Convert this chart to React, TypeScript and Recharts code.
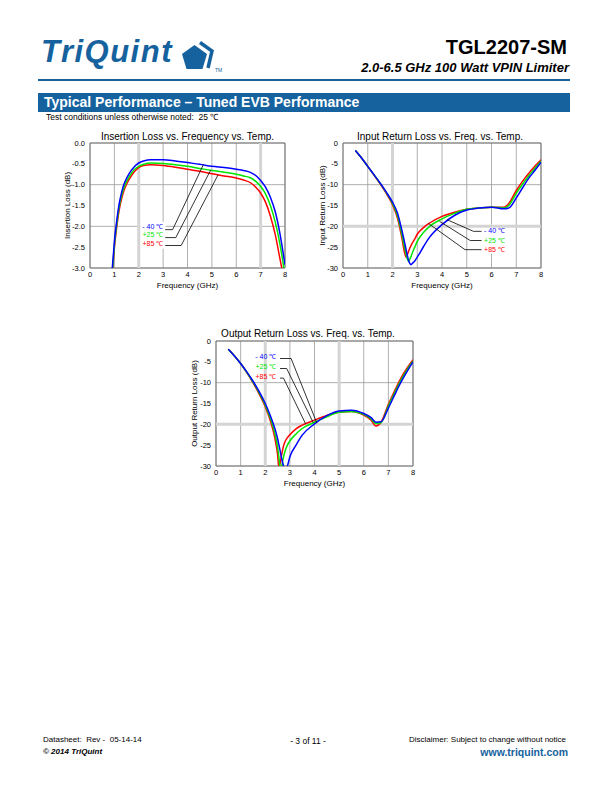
import React from 'react';
import {
  CartesianGrid,
  Label,
  Line,
  LineChart,
  ReferenceArea,
  ReferenceDot,
  ReferenceLine,
  XAxis,
  YAxis,
} from 'recharts';

const FONT = '"Liberation Sans", Arial, Helvetica, sans-serif';
const BRAND = '#15629e';

const freqTicks = [0, 1, 2, 3, 4, 5, 6, 7, 8];
const ilTicks = [0, -0.5, -1, -1.5, -2, -2.5, -3];
const rlTicks = [0, -5, -10, -15, -20, -25, -30];
const tempLabels = ['- 40 \u2103', '+25 \u2103', '+85 \u2103'];
const tempColors = ['#0000ff', '#00e600', '#ff0000'];

// insertion loss (dB)
const ilFreq = [0.9, 0.95, 1.0, 1.1, 1.2, 1.3, 1.4, 1.5, 1.6, 1.8, 2.0, 2.2, 2.5, 3.0, 3.5, 4.0, 4.5, 5.0, 5.5, 6.0, 6.3, 6.6, 6.8, 7.0, 7.2, 7.4, 7.6, 7.8, 7.9, 8.0];
const ilCold = [-3.1, -2.75, -2.37, -1.85, -1.45, -1.18, -0.98, -0.85, -0.74, -0.58, -0.48, -0.43, -0.4, -0.4, -0.43, -0.47, -0.51, -0.56, -0.59, -0.63, -0.66, -0.71, -0.78, -0.9, -1.06, -1.3, -1.65, -2.2, -2.55, -2.92];
const ilRoom = [-3.2, -2.85, -2.45, -1.93, -1.52, -1.25, -1.06, -0.92, -0.82, -0.65, -0.56, -0.51, -0.48, -0.49, -0.52, -0.56, -0.61, -0.66, -0.7, -0.75, -0.79, -0.84, -0.92, -1.04, -1.22, -1.5, -1.9, -2.45, -2.8, -3.2];
const ilHot = [-3.25, -2.9, -2.52, -2.0, -1.6, -1.33, -1.13, -0.99, -0.88, -0.7, -0.59, -0.54, -0.52, -0.54, -0.58, -0.63, -0.68, -0.74, -0.79, -0.84, -0.89, -0.96, -1.06, -1.2, -1.42, -1.75, -2.2, -2.8, -3.1, -3.4];

// input return loss (dB)
const irlFreq = [0.5, 0.75, 1.0, 1.25, 1.5, 1.75, 2.0, 2.2, 2.4, 2.45, 2.5, 2.55, 2.6, 2.65, 2.7, 2.75, 2.8, 2.9, 3.0, 3.25, 3.5, 4.0, 4.5, 5.0, 5.5, 6.0, 6.5, 6.7, 7.0, 7.25, 7.5, 7.75, 8.0];
const irlCold = [-1.8, -3.6, -5.6, -7.6, -9.6, -11.8, -14.2, -16.8, -21.5, -22.8, -24.2, -25.6, -27.0, -28.2, -28.9, -29.2, -28.9, -28.3, -27.4, -24.9, -22.6, -19.6, -17.4, -16.1, -15.6, -15.4, -15.8, -15.6, -13.2, -10.8, -8.5, -6.6, -4.6];
const irlRoom = [-1.8, -3.6, -5.6, -7.6, -9.7, -11.9, -14.5, -17.4, -22.5, -24.0, -25.4, -26.7, -27.8, -28.4, -27.9, -27.2, -26.4, -25.0, -23.6, -21.5, -20.0, -18.2, -16.9, -15.9, -15.6, -15.4, -15.6, -15.0, -12.1, -9.9, -7.9, -6.1, -4.3];
const irlHot = [-1.8, -3.6, -5.6, -7.7, -9.8, -12.1, -14.8, -18.0, -23.5, -25.2, -26.6, -27.4, -26.8, -26.0, -25.2, -24.6, -24.0, -23.0, -21.9, -20.3, -19.2, -17.6, -16.6, -15.9, -15.6, -15.4, -15.4, -14.5, -11.4, -9.2, -7.3, -5.6, -4.0];

// output return loss (dB)
const orlFreq = [0.5, 0.75, 1.0, 1.25, 1.5, 1.75, 2.0, 2.2, 2.4, 2.5, 2.55, 2.6, 2.65, 2.7, 2.75, 2.8, 2.9, 3.0, 3.25, 3.5, 4.0, 4.5, 5.0, 5.5, 6.0, 6.3, 6.5, 6.7, 7.0, 7.25, 7.5, 7.75, 8.0];
const orlCold = [-2.0, -3.6, -5.4, -7.4, -9.6, -12.1, -15.0, -17.8, -21.2, -23.4, -24.8, -26.2, -27.8, -29.0, -30.2, -31.2, -30.0, -27.8, -25.0, -22.6, -19.9, -17.9, -16.8, -16.6, -17.4, -18.4, -19.5, -19.4, -16.1, -13.0, -10.0, -7.4, -5.0];
const orlRoom = [-2.0, -3.6, -5.4, -7.5, -9.8, -12.4, -15.4, -18.4, -22.4, -25.4, -27.6, -30.2, -30.6, -29.0, -27.6, -26.5, -25.0, -24.0, -22.3, -21.0, -19.5, -18.2, -17.1, -16.9, -17.6, -18.7, -19.8, -19.6, -15.6, -12.5, -9.5, -7.0, -4.8];
const orlHot = [-2.0, -3.6, -5.4, -7.6, -10.0, -12.7, -15.8, -19.0, -23.6, -27.2, -30.2, -29.5, -27.8, -26.3, -25.0, -24.2, -23.2, -22.5, -21.1, -20.2, -19.0, -17.9, -17.1, -16.9, -17.8, -19.0, -20.4, -19.5, -15.2, -12.0, -9.0, -6.6, -4.5];

type Pt = [number, number];
type Callout = { text: Pt; anchor: 'left' | 'right'; knee: Pt; elbow: Pt; tip: Pt };

interface PlotProps {
  title: string;
  titleX: number;
  titleY: number;
  left: number;
  top: number;
  width: number;
  yAxisWidth: number;
  yLabel: string;
  yTicks: number[];
  decimals: number;
  freq: number[];
  cold: number[];
  room: number[];
  hot: number[];
  heavyX: number[];
  heavyY: number[];
  box: [Pt, Pt];
  callouts: Callout[];
}

function TempPlot(p: PlotProps) {
  const data = p.freq.map((f, i) => ({ f, cold: p.cold[i], room: p.room[i], hot: p.hot[i] }));
  const yMin = p.yTicks[p.yTicks.length - 1];
  const tick = { fontSize: 7.5, fill: '#000' };
  return (
    <>
      <div
        style={{
          position: 'absolute',
          left: p.titleX - 150,
          top: p.titleY - 6,
          width: 300,
          textAlign: 'center',
          fontSize: 10,
          lineHeight: '12px',
        }}
      >
        {p.title}
      </div>
      <div style={{ position: 'absolute', left: p.left, top: p.top }}>
        <LineChart
          width={p.width}
          height={172}
          data={data}
          margin={{ top: 18, right: 15, left: 0, bottom: 2 }}
        >
          <CartesianGrid stroke="#9a9a9a" strokeWidth={0.8} />
          {p.heavyX.map((x) => (
            <ReferenceLine key={'hx' + x} x={x} stroke="#d4d4d4" strokeWidth={3} />
          ))}
          {p.heavyY.map((y) => (
            <ReferenceLine key={'hy' + y} y={y} stroke="#d4d4d4" strokeWidth={3} />
          ))}
          <ReferenceArea
            x1={p.box[0][0]}
            x2={p.box[1][0]}
            y1={p.box[0][1]}
            y2={p.box[1][1]}
            fill="#fff"
            fillOpacity={1}
            stroke="none"
          />
          <ReferenceArea x1={0} x2={8} y1={yMin} y2={0} fill="none" stroke="#7a7a7a" strokeWidth={1} />
          <XAxis
            type="number"
            dataKey="f"
            domain={[0, 8]}
            ticks={freqTicks}
            allowDataOverflow
            axisLine={false}
            tickLine={false}
            tickSize={0}
            tickMargin={4}
            tick={tick}
            height={27}
          >
            <Label value="Frequency (GHz)" position="insideBottom" offset={7} fontSize={8} fill="#000" />
          </XAxis>
          <YAxis
            type="number"
            domain={[yMin, 0]}
            ticks={p.yTicks}
            allowDataOverflow
            axisLine={false}
            tickLine={false}
            tickSize={0}
            tickMargin={5}
            tick={tick}
            width={p.yAxisWidth}
            tickFormatter={(v: number) => v.toFixed(p.decimals)}
          >
            <Label value={p.yLabel} position="center" angle={-90} fontSize={8} fill="#000" />
          </YAxis>
          <Line type="monotone" dataKey="hot" stroke={tempColors[2]} strokeWidth={1.5} dot={false} isAnimationActive={false} />
          <Line type="monotone" dataKey="room" stroke={tempColors[1]} strokeWidth={1.5} dot={false} isAnimationActive={false} />
          <Line type="monotone" dataKey="cold" stroke={tempColors[0]} strokeWidth={1.5} dot={false} isAnimationActive={false} />
          {p.callouts.map((c, i) => (
            <ReferenceLine
              key={'h' + i}
              segment={[
                { x: c.knee[0], y: c.knee[1] },
                { x: c.elbow[0], y: c.elbow[1] },
              ]}
              stroke="#000"
              strokeWidth={0.8}
            />
          ))}
          {p.callouts.map((c, i) => (
            <ReferenceLine
              key={'d' + i}
              segment={[
                { x: c.elbow[0], y: c.elbow[1] },
                { x: c.tip[0], y: c.tip[1] },
              ]}
              stroke="#000"
              strokeWidth={0.8}
            />
          ))}
          {p.callouts.map((c, i) => (
            <ReferenceDot
              key={'t' + i}
              x={c.text[0]}
              y={c.text[1]}
              r={0.5}
              fill="none"
              stroke="none"
              label={{ value: tempLabels[i], position: c.anchor, offset: 0, fill: tempColors[i], fontSize: 7 }}
            />
          ))}
        </LineChart>
      </div>
    </>
  );
}

function Logo() {
  return (
    <>
      <div
        style={{
          position: 'absolute',
          left: 41,
          top: 35,
          fontSize: 31,
          lineHeight: '34px',
          fontWeight: 'bold',
          fontStyle: 'italic',
          color: BRAND,
          letterSpacing: 1.5,
        }}
      >
        TriQuint
      </div>
      <svg style={{ position: 'absolute', left: 182, top: 41 }} width={46} height={34}>
        <polygon points="12.5,4 25,13 20.5,28 4.5,28 0,13" fill={BRAND} />
        <polyline points="18,1.5 30,10 26,27" fill="none" stroke={BRAND} strokeWidth={3.5} strokeLinejoin="miter" />
        <text x={33} y={31} fontSize={5} fill={BRAND}>TM</text>
      </svg>
    </>
  );
}

export default function App() {
  const abs = (s: React.CSSProperties): React.CSSProperties => ({ position: 'absolute', whiteSpace: 'nowrap', ...s });
  return (
    <div style={{ position: 'absolute', left: 0, top: 0, width: 612, height: 792, background: '#fff', fontFamily: FONT, color: '#000' }}>
      <Logo />
      <div style={abs({ right: 45, top: 35, fontSize: 20, lineHeight: '24px', fontWeight: 'bold' })}>TGL2207-SM</div>
      <div style={abs({ right: 43, top: 60, fontSize: 13, lineHeight: '16px', fontWeight: 'bold', fontStyle: 'italic' })}>
        2.0-6.5 GHz 100 Watt VPIN Limiter
      </div>
      <div style={abs({ left: 38, top: 79, width: 532, height: 2, background: BRAND })} />
      <div
        style={abs({
          left: 38,
          top: 93,
          width: 526,
          height: 19,
          paddingLeft: 6,
          background: BRAND,
          color: '#fff',
          fontSize: 14,
          lineHeight: '19px',
          fontWeight: 'bold',
        })}
      >
        Typical Performance – Tuned EVB Performance
      </div>
      <div style={abs({ left: 46, top: 112, fontSize: 8.5, lineHeight: '10px' })}>
        Test conditions unless otherwise noted:&nbsp; 25 &#8451;
      </div>

      <TempPlot
        title="Insertion Loss vs. Frequency vs. Temp."
        titleX={187.5}
        titleY={136.5}
        left={44}
        top={125}
        width={256}
        yAxisWidth={46}
        yLabel="Insertion Loss (dB)"
        yTicks={ilTicks}
        decimals={1}
        freq={ilFreq}
        cold={ilCold}
        room={ilRoom}
        hot={ilHot}
        heavyX={[2, 7]}
        heavyY={[]}
        box={[[2.06, -1.89], [3.11, -2.54]]}
        callouts={[
          { text: [3.03, -2.0], anchor: 'left', knee: [3.085, -2.08], elbow: [3.39, -2.08], tip: [4.65, -0.52] },
          { text: [3.03, -2.2], anchor: 'left', knee: [3.085, -2.27], elbow: [3.52, -2.27], tip: [4.95, -0.65] },
          { text: [3.03, -2.42], anchor: 'left', knee: [3.085, -2.46], elbow: [3.74, -2.46], tip: [5.25, -0.77] },
        ]}
      />
      <TempPlot
        title="Input Return Loss vs. Freq. vs. Temp."
        titleX={440}
        titleY={136.5}
        left={301}
        top={125}
        width={255}
        yAxisWidth={42}
        yLabel="Input Return Loss (dB)"
        yTicks={rlTicks}
        decimals={0}
        freq={irlFreq}
        cold={irlCold}
        room={irlRoom}
        hot={irlHot}
        heavyX={[2]}
        heavyY={[-20]}
        box={[[5.57, -19.6], [6.51, -26.6]]}
        callouts={[
          { text: [5.68, -21.0], anchor: 'right', knee: [5.6, -21.2], elbow: [5.27, -21.2], tip: [4.2, -18.4] },
          { text: [5.68, -23.3], anchor: 'right', knee: [5.6, -23.4], elbow: [5.14, -23.4], tip: [3.9, -18.8] },
          { text: [5.68, -25.5], anchor: 'right', knee: [5.6, -25.6], elbow: [4.93, -25.6], tip: [3.45, -19.3] },
        ]}
      />
      <TempPlot
        title="Output Return Loss vs. Freq. vs. Temp."
        titleX={308}
        titleY={334}
        left={172}
        top={323}
        width={256}
        yAxisWidth={44}
        yLabel="Output Return Loss (dB)"
        yTicks={rlTicks}
        decimals={0}
        freq={orlFreq}
        cold={orlCold}
        room={orlRoom}
        hot={orlHot}
        heavyX={[2, 5]}
        heavyY={[-20]}
        box={[[1.52, -2.8], [2.56, -9.7]]}
        callouts={[
          { text: [2.47, -3.7], anchor: 'left', knee: [2.6, -4.2], elbow: [3.05, -4.2], tip: [4.09, -19.6] },
          { text: [2.47, -6.1], anchor: 'left', knee: [2.6, -6.6], elbow: [2.87, -6.6], tip: [3.95, -19.6] },
          { text: [2.47, -8.5], anchor: 'left', knee: [2.6, -8.9], elbow: [2.74, -8.9], tip: [3.64, -19.9] },
        ]}
      />

      <div style={abs({ left: 43, top: 735, fontSize: 8, lineHeight: '10px' })}>Datasheet:&nbsp; Rev -&nbsp; 05-14-14</div>
      <div style={abs({ left: 43, top: 747, fontSize: 8, lineHeight: '10px', fontWeight: 'bold', fontStyle: 'italic' })}>
        © 2014 TriQuint
      </div>
      <div style={abs({ left: 258, width: 100, textAlign: 'center', top: 736, fontSize: 8.5, lineHeight: '10px' })}>- 3 of 11 -</div>
      <div style={abs({ right: 46, top: 735, fontSize: 8, lineHeight: '10px' })}>Disclaimer: Subject to change without notice</div>
      <div style={abs({ right: 44, top: 746, fontSize: 10.5, lineHeight: '12px', fontWeight: 'bold', color: BRAND })}>
        www.triquint.com
      </div>
    </div>
  );
}
